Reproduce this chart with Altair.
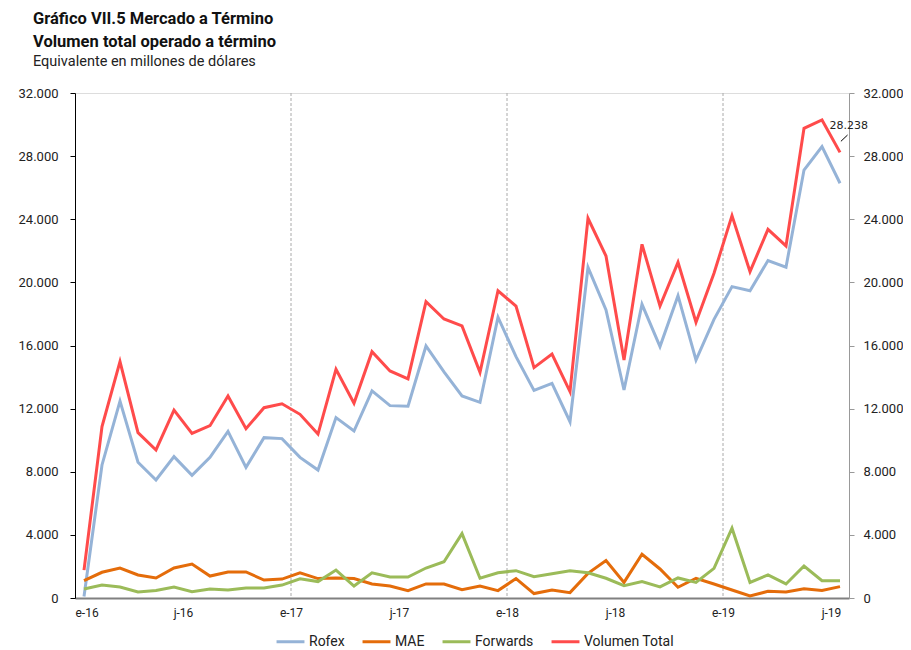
import json
import altair as alt
import pandas as pd

# ---- data (monthly, Jan-2016 .. Jul-2019), millions of USD ----
rofex = [100, 8430, 12480, 8600, 7480, 8960, 7770, 8910, 10560, 8280, 10160, 10100,
         8910, 8110, 11430, 10580, 13120, 12190, 12150, 15970, 14330, 12800, 12400, 17790,
         15290, 13150, 13600, 11170, 20950, 18250, 13180, 18610, 15930, 19160, 15080, 17660,
         19730, 19470, 21380, 20960, 27120, 28600, 26280]
mae = [1100, 1630, 1900, 1460, 1270, 1900, 2150, 1390, 1650, 1650, 1140, 1200,
       1600, 1230, 1270, 1230, 890, 760, 470, 890, 890, 530, 760, 470,
       1230, 280, 510, 340, 1560, 2370, 990, 2770, 1840, 680, 1250, 890,
       510, 130, 420, 380, 590, 470, 720]
forwards = [570, 820, 700, 380, 470, 700, 400, 570, 510, 630, 630, 820,
            1220, 1040, 1770, 760, 1600, 1330, 1330, 1900, 2300, 4080, 1250, 1600,
            1730, 1350, 1540, 1730, 1600, 1250, 780, 1040, 700, 1270, 990, 1880,
            4420, 990, 1460, 890, 2030, 1100, 1100]
volumen_total = [1770, 10860, 14980, 10480, 9380, 11910, 10430, 10920, 12800, 10730, 12060, 12310,
                 11640, 10390, 14490, 12340, 15610, 14390, 13880, 18780, 17680, 17240, 14300, 19470,
                 18500, 14600, 15460, 13080, 24060, 21670, 15080, 22410, 18500, 21270, 17470, 20580,
                 24230, 20680, 23360, 22310, 29760, 30290, 28238]

series_names = ["Rofex", "MAE", "Forwards", "Volumen Total"]
series_colors = ["#95B3D7", "#E46C0A", "#9BBB59", "#FF4B4B"]
tick_labels = ["e-16", "j-16", "e-17", "j-17", "e-18", "j-18", "e-19", "j-19"]
year_starts = [12, 24, 36]          # month index where 2017, 2018, 2019 begin
last_label = "28.238"

FONT = "Roboto"

rows = []
for name, vals in zip(series_names, [rofex, mae, forwards, volumen_total]):
    for i, v in enumerate(vals):
        rows.append({"mes": i + 0.5, "valor": v, "serie": name, "orden": series_names.index(name)})
df = pd.DataFrame(rows)

n = len(rofex)
label_expr = f"{json.dumps(tick_labels)}[round(datum.value / 6)]"
fmt_expr = "replace(format(datum.value, ','), ',', '.')"

xscale = alt.Scale(domain=[0, n], nice=False, zero=False)
yscale = alt.Scale(domain=[0, 32000], nice=False)

xaxis = alt.Axis(values=list(range(0, n, 6)), labelExpr=label_expr, title=None,
                 ticks=False, grid=False, domainColor="#808080", domainWidth=2,
                 labelFont=FONT, labelFontSize=12, labelColor="#222222", labelPadding=9)

lines = alt.Chart(df).mark_line(strokeWidth=3).encode(
    x=alt.X("mes:Q", scale=xscale, axis=xaxis),
    y=alt.Y("valor:Q", scale=yscale,
            axis=alt.Axis(orient="left", values=list(range(0, 32001, 4000)), labelExpr=fmt_expr,
                          title=None, grid=False, domainColor="#000000", tickColor="#000000",
                          tickSize=5, labelFont=FONT, labelFontSize=13, labelColor="#222222",
                          labelPadding=12)),
    color=alt.Color("serie:N", sort=series_names,
                    scale=alt.Scale(domain=series_names, range=series_colors),
                    legend=alt.Legend(orient="none", direction="horizontal", title=None,
                                      legendX=200, legendY=533,
                                      symbolType="stroke", symbolSize=780, symbolStrokeWidth=3,
                                      labelOffset=3, labelFont=FONT, labelFontSize=14,
                                      labelColor="#222222", columnPadding=11)),
    order="orden:Q",
    detail="serie:N",
)

right_axis = alt.Chart(pd.DataFrame({"valor": [0, 32000]})).mark_point(opacity=0).encode(
    y=alt.Y("valor:Q", scale=yscale,
            axis=alt.Axis(orient="right", values=list(range(0, 32001, 4000)), labelExpr=fmt_expr,
                          title=None, grid=False, domainColor="#999999", tickColor="#999999",
                          tickSize=5, labelFont=FONT, labelFontSize=13, labelColor="#222222",
                          labelPadding=9)),
)

sep_df = pd.DataFrame({"mes": year_starts})
seps = alt.Chart(sep_df).mark_rule(color="#AAAAAA", strokeDash=[3, 2], strokeWidth=1).encode(
    x=alt.X("mes:Q", scale=xscale),
)

ann_df = pd.DataFrame({"mes": [n - 0.45], "valor": [volumen_total[-1] + 700],
                       "mes2": [n - 0.08], "valor2": [volumen_total[-1] + 1100],
                       "lbl": [last_label], "tx": [n - 0.02], "ty": [volumen_total[-1] + 1700]})
ann_line = alt.Chart(ann_df).mark_rule(color="#000000", strokeWidth=1).encode(
    x=alt.X("mes:Q", scale=xscale), x2="mes2:Q",
    y=alt.Y("valor:Q", scale=yscale), y2="valor2:Q",
)
ann_text = alt.Chart(ann_df).mark_text(font="DejaVu Sans", fontSize=11, color="#222222",
                                       align="center", baseline="middle").encode(
    x=alt.X("tx:Q", scale=xscale),
    y=alt.Y("ty:Q", scale=yscale),
    text="lbl:N",
)

left = alt.layer(seps, lines, ann_line, ann_text)
chart = alt.layer(left, right_axis).resolve_scale(y="shared").resolve_axis(y="independent").properties(
    width=774,
    height=505,
    padding={"left": 67, "top": 85, "right": 54, "bottom": 60},
    autosize=alt.AutoSizeParams(type="none"),
    title=alt.Title(
        text=["Gráfico VII.5 Mercado a Término", "Volumen total operado a término"],
        subtitle="Equivalente en millones de dólares",
        anchor="start", frame="group", dx=-42, offset=19,
        font=FONT, fontSize=16.5, fontWeight="bold", color="#111111", lineHeight=23,
        subtitleFont=FONT, subtitleFontSize=14.5, subtitleColor="#222222", subtitlePadding=4,
    ),
).configure_view(stroke=None).configure(background="white")

chart.save("out.html", embed_options={"renderer": "svg", "actions": False})
